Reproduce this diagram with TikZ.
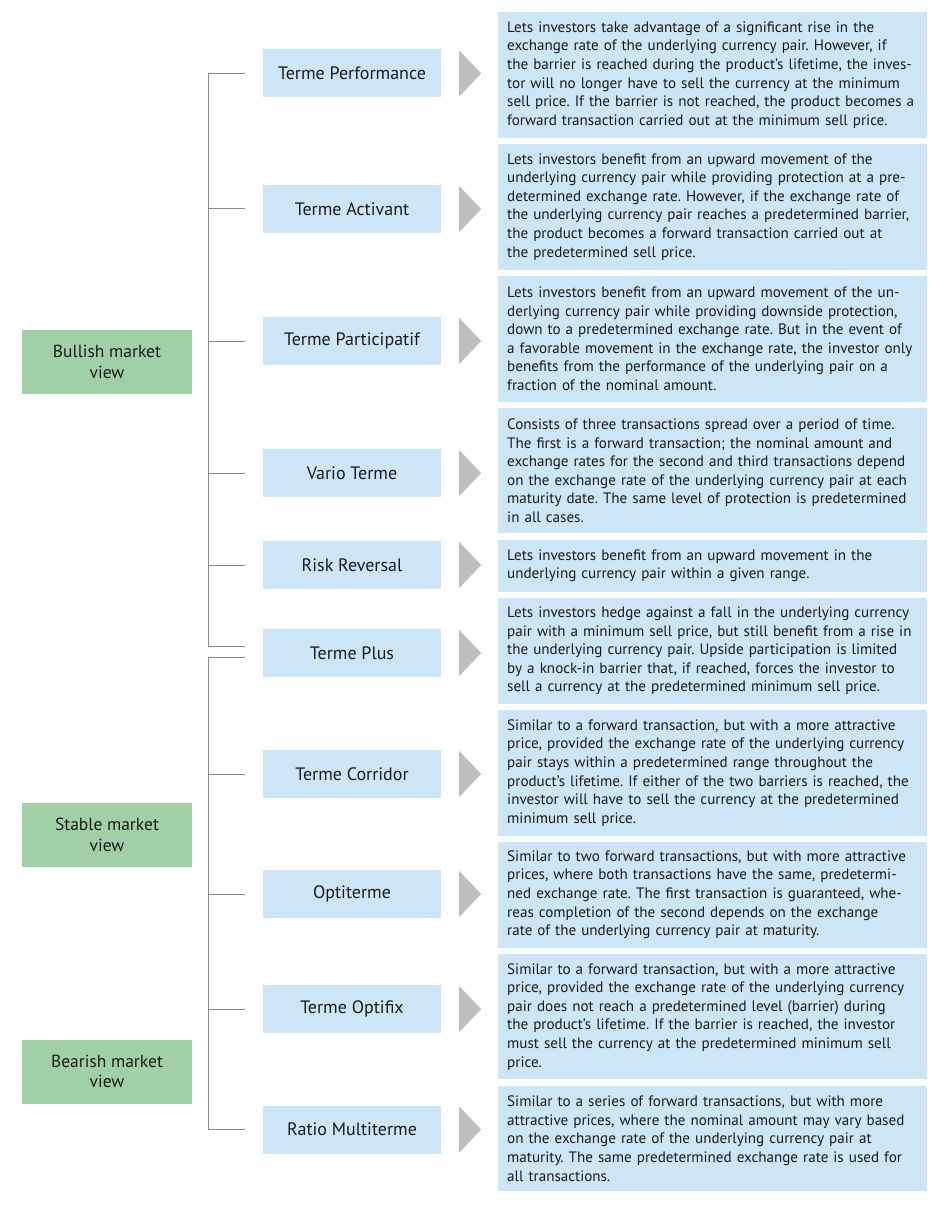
\documentclass[tikz,border=0pt]{standalone}
\usepackage{fontspec}
\setmainfont{PT Sans}
\usetikzlibrary{positioning}
\definecolor{boxblue}{HTML}{CDE6F7}
\definecolor{viewgreen}{HTML}{A1D0A7}
\definecolor{tickgray}{HTML}{8E8A86}
\definecolor{trigray}{HTML}{BEBEBE}
\definecolor{ink}{HTML}{1A1A1A}
\frenchspacing

\begin{document}
\begin{tikzpicture}[
  x=1pt,y=-1pt,
  node distance=6pt,
  desc/.style={fill=boxblue,text=ink,text width=411pt,inner xsep=9pt,inner ysep=4pt,align=left,
    font=\fontsize{15.1}{18.6}\selectfont},
  six/.style={desc,minimum height=125.5pt},
  five/.style={desc,minimum height=105.5pt},
  lbl/.style={fill=boxblue,text=ink,minimum width=178pt,minimum height=48pt,font=\fontsize{18}{20}\selectfont},
  view/.style={fill=viewgreen,text=ink,minimum width=170pt,minimum height=64pt,align=center,
    font=\fontsize{17.5}{20.5}\selectfont},
  tick/.style={draw=tickgray,line width=1pt},
  tri/.style={fill=trigray}
]
\path[use as bounding box] (0,0) rectangle (940,1206);

% descriptions
\node[six,anchor=north west] (d1) at (498,12) {Lets investors take advantage of a significant rise in the\\
exchange rate of the underlying currency pair. However, if\\
the barrier is reached during the product’s lifetime, the inves-\\
tor will no longer have to sell the currency at the minimum\\
sell price. If the barrier is not reached, the product becomes a\\
forward transaction carried out at the minimum sell price.};
\node[six,below=of d1] (d2) {Lets investors benefit from an upward movement of the\\
underlying currency pair while providing protection at a pre-\\
determined exchange rate. However, if the exchange rate of\\
the underlying currency pair reaches a predetermined barrier,\\
the product becomes a forward transaction carried out at\\
the predetermined sell price.};
\node[six,below=of d2] (d3) {Lets investors benefit from an upward movement of the un-\\
derlying currency pair while providing downside protection,\\
down to a predetermined exchange rate. But in the event of\\
a favorable movement in the exchange rate, the investor only\\
benefits from the performance of the underlying pair on a\\
fraction of the nominal amount.};
\node[six,below=of d3] (d4) {Consists of three transactions spread over a period of time.\\
The first is a forward transaction; the nominal amount and\\
exchange rates for the second and third transactions depend\\
on the exchange rate of the underlying currency pair at each\\
maturity date. The same level of protection is predetermined\\
in all cases.};
\node[desc,minimum height=52pt,below=of d4] (d5) {Lets investors benefit from an upward movement in the\\
underlying currency pair within a given range.};
\node[five,below=of d5] (d6) {Lets investors hedge against a fall in the underlying currency\\
pair with a minimum sell price, but still benefit from a rise in\\
the underlying currency pair. Upside participation is limited\\
by a knock-in barrier that, if reached, forces the investor to\\
sell a currency at the predetermined minimum sell price.};
\node[six,below=of d6] (d7) {Similar to a forward transaction, but with a more attractive\\
price, provided the exchange rate of the underlying currency\\
pair stays within a predetermined range throughout the\\
product’s lifetime. If either of the two barriers is reached, the\\
investor will have to sell the currency at the predetermined\\
minimum sell price.};
\node[five,below=of d7] (d8) {Similar to two forward transactions, but with more attractive\\
prices, where both transactions have the same, predetermi-\\
ned exchange rate. The first transaction is guaranteed, whe-\\
reas completion of the second depends on the exchange\\
rate of the underlying currency pair at maturity.};
\node[six,below=of d8] (d9) {Similar to a forward transaction, but with a more attractive\\
price, provided the exchange rate of the underlying currency\\
pair does not reach a predetermined level (barrier) during\\
the product’s lifetime. If the barrier is reached, the investor\\
must sell the currency at the predetermined minimum sell\\
price.};
\node[five,below=of d9] (d10) {Similar to a series of forward transactions, but with more\\
attractive prices, where the nominal amount may vary based\\
on the exchange rate of the underlying currency pair at\\
maturity. The same predetermined exchange rate is used for\\
all transactions.};

% product labels
\node[lbl] (perf) at (352,73.5) {Terme Performance};
\node[lbl] (act) at (352,209) {Terme Activant};
\node[lbl] (part) at (352,341) {Terme Participatif};
\node[lbl] (vario) at (352,473) {Vario Terme};
\node[lbl] (risk) at (352,565) {Risk Reversal};
\node[lbl] (plus) at (352,653) {Terme Plus};
\node[lbl] (corr) at (352,774) {Terme Corridor};
\node[lbl] (opti) at (352,894) {Optiterme};
\node[lbl] (optfx) at (352,1009) {Terme Optifix};
\node[lbl] (ratio) at (352,1129.5) {Ratio Multiterme};

% market views
\node[view] (bull) at (107,362) {Bullish market\\view};
\node[view] (stable) at (107,835) {Stable market\\view};
\node[view] (bear) at (107,1071.5) {Bearish market\\view};

% arrows
\fill[tri] ([xshift=18pt]perf.east) -- ++(0,-23) -- ++(22,23) -- ++(-22,23) -- cycle;
\fill[tri] ([xshift=18pt]act.east) -- ++(0,-23) -- ++(22,23) -- ++(-22,23) -- cycle;
\fill[tri] ([xshift=18pt]part.east) -- ++(0,-23) -- ++(22,23) -- ++(-22,23) -- cycle;
\fill[tri] ([xshift=18pt]vario.east) -- ++(0,-23) -- ++(22,23) -- ++(-22,23) -- cycle;
\fill[tri] ([xshift=18pt]risk.east) -- ++(0,-23) -- ++(22,23) -- ++(-22,23) -- cycle;
\fill[tri] ([xshift=18pt]plus.east) -- ++(0,-23) -- ++(22,23) -- ++(-22,23) -- cycle;
\fill[tri] ([xshift=18pt]corr.east) -- ++(0,-23) -- ++(22,23) -- ++(-22,23) -- cycle;
\fill[tri] ([xshift=18pt]opti.east) -- ++(0,-23) -- ++(22,23) -- ++(-22,23) -- cycle;
\fill[tri] ([xshift=18pt]optfx.east) -- ++(0,-23) -- ++(22,23) -- ++(-22,23) -- cycle;
\fill[tri] ([xshift=18pt]ratio.east) -- ++(0,-23) -- ++(22,23) -- ++(-22,23) -- cycle;

% brackets
\draw[tick] ([xshift=-18pt]perf.west) -- ++(-36,0) |- ([xshift=-18pt,yshift=7pt]plus.west);
\draw[tick] ([xshift=-18pt]act.west) -- ++(-36,0);
\draw[tick] ([xshift=-18pt]part.west) -- ++(-36,0);
\draw[tick] ([xshift=-18pt]vario.west) -- ++(-36,0);
\draw[tick] ([xshift=-18pt]risk.west) -- ++(-36,0);
\draw[tick] ([xshift=-18pt,yshift=-4pt]plus.west) -- ++(-36,0) |- ([xshift=-18pt]ratio.west);
\draw[tick] ([xshift=-18pt]corr.west) -- ++(-36,0);
\draw[tick] ([xshift=-18pt]opti.west) -- ++(-36,0);
\draw[tick] ([xshift=-18pt]optfx.west) -- ++(-36,0);
\end{tikzpicture}
\end{document}
